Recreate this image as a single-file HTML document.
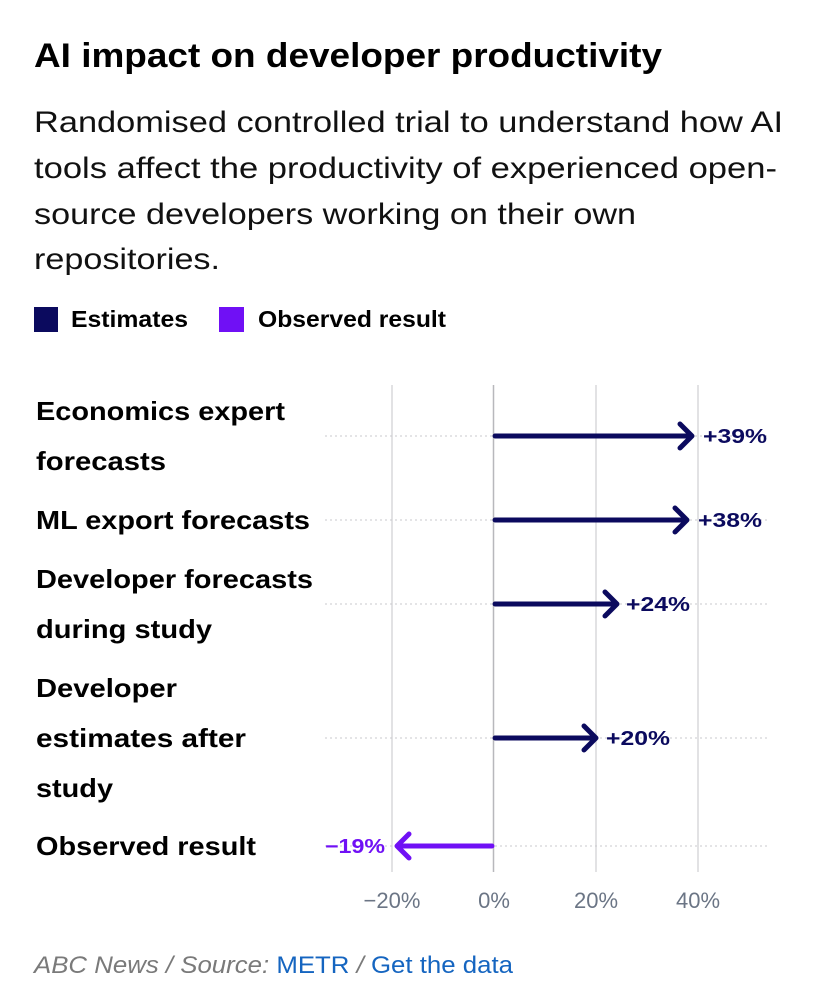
<!DOCTYPE html>
<html><head><meta charset="utf-8"><style>
html,body{margin:0;padding:0;background:#fff;}
svg{display:block;font-family:"Liberation Sans",sans-serif;}
</style></head><body>
<svg width="823" height="1000" viewBox="0 0 823 1000">
<text x="34" y="67" font-size="34" font-weight="bold" fill="#000" textLength="628" lengthAdjust="spacingAndGlyphs">AI impact on developer productivity</text>
<g font-size="30" fill="#111">
<text x="34" y="132" textLength="749" lengthAdjust="spacingAndGlyphs">Randomised controlled trial to understand how AI</text>
<text x="34" y="178" textLength="743" lengthAdjust="spacingAndGlyphs">tools affect the productivity of experienced open-</text>
<text x="34" y="224" textLength="602" lengthAdjust="spacingAndGlyphs">source developers working on their own</text>
<text x="34" y="269" textLength="186" lengthAdjust="spacingAndGlyphs">repositories.</text>
</g>
<rect x="34" y="307" width="24" height="25" fill="#0b0a5e"/>
<text x="71" y="327" font-size="23" font-weight="bold" fill="#000" textLength="117" lengthAdjust="spacingAndGlyphs">Estimates</text>
<rect x="219" y="307" width="25" height="25" fill="#7010f5"/>
<text x="258" y="327" font-size="23" font-weight="bold" fill="#000" textLength="188" lengthAdjust="spacingAndGlyphs">Observed result</text>

<g stroke="#d8d8dc" stroke-width="1.5">
<line x1="392" y1="385" x2="392" y2="872"/>
<line x1="596" y1="385" x2="596" y2="872"/>
<line x1="698" y1="385" x2="698" y2="872"/>
</g>
<line x1="493.5" y1="385" x2="493.5" y2="872" stroke="#b8b8bc" stroke-width="1.5"/>
<g stroke="#c8c8cc" stroke-width="1" stroke-dasharray="2,3">
<line x1="325" y1="436" x2="767" y2="436"/>
<line x1="325" y1="520" x2="767" y2="520"/>
<line x1="325" y1="604" x2="767" y2="604"/>
<line x1="325" y1="738" x2="767" y2="738"/>
<line x1="325" y1="846" x2="767" y2="846"/>
</g>

<g fill="none" stroke="#0b0a5e" stroke-width="5" stroke-linecap="round" stroke-linejoin="round">
<path d="M495 436 H692 M680 424 L692 436 L680 448"/>
<path d="M495 520 H687 M675 508 L687 520 L675 532"/>
<path d="M495 604 H617 M605 592 L617 604 L605 616"/>
<path d="M495 738 H596 M584 726 L596 738 L584 750"/>
</g>
<path d="M492 846 H397 M409 834 L397 846 L409 858" fill="none" stroke="#7010f5" stroke-width="5" stroke-linecap="round" stroke-linejoin="round"/>

<g font-size="20" font-weight="bold" fill="#0b0a5e">
<text x="703" y="443" textLength="64" lengthAdjust="spacingAndGlyphs">+39%</text>
<text x="698" y="527" textLength="64" lengthAdjust="spacingAndGlyphs">+38%</text>
<text x="626" y="611" textLength="64" lengthAdjust="spacingAndGlyphs">+24%</text>
<text x="606" y="745" textLength="64" lengthAdjust="spacingAndGlyphs">+20%</text>
</g>
<text x="325" y="853" font-size="20" font-weight="bold" fill="#7010f5" textLength="60" lengthAdjust="spacingAndGlyphs">−19%</text>

<g font-size="26" font-weight="bold" fill="#000">
<text x="36" y="420" textLength="249" lengthAdjust="spacingAndGlyphs">Economics expert</text>
<text x="36" y="470" textLength="130" lengthAdjust="spacingAndGlyphs">forecasts</text>
<text x="36" y="529" textLength="274" lengthAdjust="spacingAndGlyphs">ML export forecasts</text>
<text x="36" y="588" textLength="277" lengthAdjust="spacingAndGlyphs">Developer forecasts</text>
<text x="36" y="638" textLength="176" lengthAdjust="spacingAndGlyphs">during study</text>
<text x="36" y="697" textLength="141" lengthAdjust="spacingAndGlyphs">Developer</text>
<text x="36" y="747" textLength="210" lengthAdjust="spacingAndGlyphs">estimates after</text>
<text x="36" y="797" textLength="77" lengthAdjust="spacingAndGlyphs">study</text>
<text x="36" y="855" textLength="220" lengthAdjust="spacingAndGlyphs">Observed result</text>
</g>

<g font-size="22" fill="#6b7585" text-anchor="middle">
<text x="392" y="908">−20%</text>
<text x="494" y="908">0%</text>
<text x="596" y="908">20%</text>
<text x="698" y="908">40%</text>
</g>

<text x="34" y="973" font-size="24" textLength="479" lengthAdjust="spacingAndGlyphs"><tspan fill="#7a7a7a" font-style="italic">ABC News / Source: </tspan><tspan fill="#1565c0">METR</tspan><tspan fill="#7a7a7a" font-style="italic"> / </tspan><tspan fill="#1565c0">Get the data</tspan></text>
</svg>
</body></html>
